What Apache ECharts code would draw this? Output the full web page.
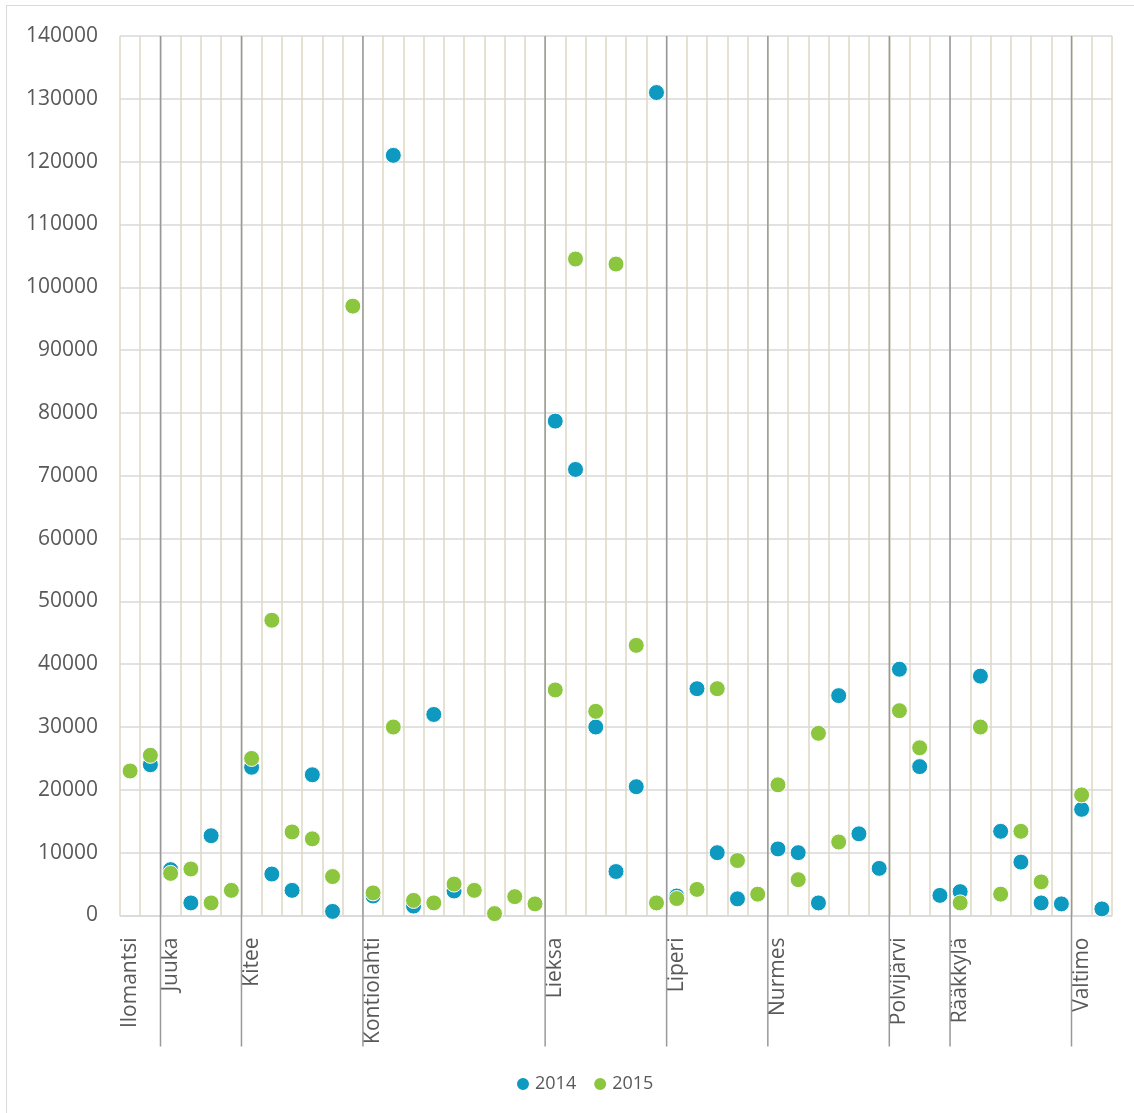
<!DOCTYPE html>
<html>
<head>
<meta charset="utf-8">
<script src="https://cdn.jsdelivr.net/npm/echarts@6/dist/echarts.min.js"></script>
<style>
html,body{margin:0;padding:0;background:#fff;overflow:hidden;}
#chart{position:absolute;left:0;top:0;width:1134px;height:1113px;}
#frame{position:absolute;left:6px;top:5px;width:1300px;height:1300px;border-left:1.5px solid #d9d9d9;border-top:1.5px solid #d9d9d9;pointer-events:none;}
</style>
</head>
<body>
<div id="chart"></div>
<div id="frame"></div>
<script>
// ---- data ----
const groupNames = ['Ilomantsi','Juuka','Kitee','Kontiolahti','Lieksa','Liperi','Nurmes','Polvijärvi','Rääkkylä','Valtimo'];
const groupSizes = [2, 4, 6, 9, 6, 5, 6, 3, 6, 2];
const seriesNames = ['2014', '2015'];
const values2014 = [
  null, 24000,
  7300, 2000, 12700, null,
  23600, 6600, 4000, 22400, 650, null,
  3100, 121000, 1500, 32000, 3900, null, null, null, null,
  78700, 71000, 30000, 7000, 20500, 131000,
  3100, 36100, 10000, 2650, null,
  10600, 10000, 2000, 35000, 13000, 7500,
  39200, 23700, 3200,
  3800, 38100, 13400, 8500, 2000, 1850,
  16900, 1050
];
const values2015 = [
  23000, 25500,
  6700, 7400, 2000, 4000,
  25000, 47000, 13300, 12200, 6200, 97000,
  3600, 30000, 2400, 2000, 5000, 4000, 300, 3000, 1850,
  35900, 104500, 32500, 103700, 43000, 2000,
  2700, 4150, 36100, 8750, 3400,
  20800, 5700, 29000, 11700, null, null,
  32600, 26700, null,
  2000, 30000, 3400, 13400, 5350, null,
  19200, null
];
const yMin = 0, yMax = 140000, yStep = 10000;

// ---- derived structures ----
const categories = [];
const labelAt = [];
const groupStarts = [];
groupNames.forEach(function (name, g) {
  groupStarts.push(categories.length);
  for (let k = 0; k < groupSizes[g]; k++) {
    labelAt.push(k === 0 ? name : '');
    categories.push(String(categories.length));
  }
});
function toPoints(vals) {
  return vals.map(function (v, i) { return [i, v]; }).filter(function (d) { return d[1] !== null; });
}

const FONT = '"Open Sans", "Noto Sans", sans-serif';
const chart = echarts.init(document.getElementById('chart'), null, {renderer: 'canvas'});
chart.setOption({
  animation: false,
  backgroundColor: '#fff',
  grid: {left: 120, right: 22, top: 36, bottom: 197.5, containLabel: false},
  legend: {
    data: seriesNames,
    icon: 'circle',
    itemWidth: 14, itemHeight: 14, itemGap: 16,
    left: 510, top: 1070,
    textStyle: {color: '#595959', fontSize: 18, fontFamily: FONT}
  },
  xAxis: {
    type: 'category',
    data: categories,
    boundaryGap: true,
    axisLine: {show: true, lineStyle: {color: '#d9d9d9', width: 1.5}},
    axisTick: {show: false},
    axisLabel: {
      interval: 0, rotate: 90, margin: 22,
      color: '#595959', fontSize: 21, fontFamily: FONT,
      formatter: function (v) { return labelAt[+v]; }
    },
    splitLine: {show: true, interval: 0, lineStyle: {color: '#ddd9c4', width: 1.5}}
  },
  yAxis: {
    type: 'value',
    min: yMin, max: yMax, interval: yStep,
    axisLine: {show: false},
    axisTick: {show: false},
    axisLabel: {
      color: '#595959', fontSize: 21, margin: 22, fontFamily: FONT,
      formatter: function (v) { return String(v); }
    },
    splitLine: {show: true, lineStyle: {color: '#d9d9d9', width: 1.5}}
  },
  series: [
    {
      type: 'custom',
      silent: true,
      z: 1,
      clip: false,
      data: groupStarts.slice(1).map(function (s) { return [s]; }),
      encode: {x: 0},
      renderItem: function (params, api) {
        const i = api.value(0);
        const top = api.coord([i, yMax]);
        const base = api.coord([i, yMin]);
        const bw = api.size([1, 0])[0];
        const x = top[0] - bw / 2;
        return {
          type: 'line',
          shape: {x1: x, y1: top[1], x2: x, y2: base[1] + 131},
          style: {stroke: '#999999', lineWidth: 1.5}
        };
      }
    },
    {
      name: seriesNames[0],
      type: 'scatter',
      z: 3,
      symbol: 'circle',
      symbolSize: 16,
      itemStyle: {color: '#0e9ac0', borderColor: '#ffffff', borderWidth: 1, opacity: 1},
      data: toPoints(values2014)
    },
    {
      name: seriesNames[1],
      type: 'scatter',
      z: 4,
      symbol: 'circle',
      symbolSize: 16,
      itemStyle: {color: '#8cc63f', borderColor: '#ffffff', borderWidth: 1, opacity: 1},
      data: toPoints(values2015)
    }
  ]
});
</script>
</body>
</html>
